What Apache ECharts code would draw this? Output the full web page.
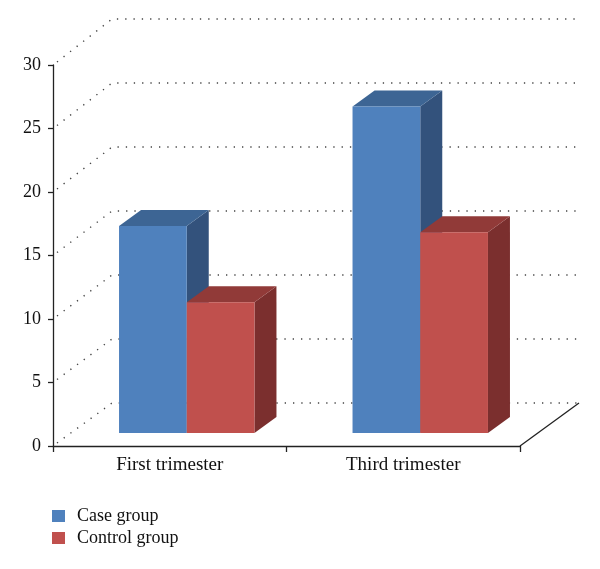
<!DOCTYPE html>
<html>
<head>
<meta charset="utf-8">
<script src="https://cdn.jsdelivr.net/npm/echarts@6/dist/echarts.min.js"></script>
<style>
  html, body { margin: 0; padding: 0; background: #fff; }
  #chart { width: 600px; height: 569px; }
</style>
</head>
<body>
<div id="chart"></div>
<script>
// data
var categories = ['First trimester', 'Third trimester'];
var caseGroup = [16.3, 25.7];
var controlGroup = [10.3, 15.8];
var yTicks = [0, 5, 10, 15, 20, 25, 30];

// 3D look
var WALL_DX = 59;      // depth of the back wall
var BAR_OFF_X = 17;    // bars stand a bit inside the floor
var BAR_OFF_Y = -13;
var BAR_DX = 22;       // depth of each bar
var BAR_DY = -16;
var BAR_FRAC = 0.29;   // bar width / band width
var FONT = 'Liberation Serif';

function renderWall(params, api) {
  var v = api.value(1);
  var cs = params.coordSys;
  var y = api.coord([0, v])[1];
  var dy = -43 - v * 0.1;
  var kids = [{
    type: 'polyline',
    shape: { points: [[cs.x + 4, y - 3], [cs.x + WALL_DX, y + dy], [cs.x + cs.width + WALL_DX, y + dy]] },
    style: { fill: null, stroke: '#444', lineWidth: 1.4, lineDash: [1.3, 7] }
  }];
  if (v === 0) {
    // right floor edge
    kids.push({
      type: 'line',
      shape: { x1: cs.x + cs.width, y1: y, x2: cs.x + cs.width + WALL_DX, y2: y + dy },
      style: { stroke: '#222', lineWidth: 1.3 }
    });
  }
  return { type: 'group', children: kids, silent: true };
}

function makeBar(left, front, top, side) {
  return function (params, api) {
    var idx = api.value(0), v = api.value(1);
    var base = api.coord([idx, 0]);
    var tp = api.coord([idx, v]);
    var bw = api.size([1, 0])[0] * BAR_FRAC;
    var x0 = base[0] + BAR_OFF_X + (left ? -bw : 0);
    var x1 = x0 + bw;
    var yb = base[1] + BAR_OFF_Y, yt = tp[1] + BAR_OFF_Y;
    return {
      type: 'group',
      children: [
        { type: 'polygon', shape: { points: [[x1, yb], [x1 + BAR_DX, yb + BAR_DY], [x1 + BAR_DX, yt + BAR_DY], [x1, yt]] }, style: { fill: side } },
        { type: 'polygon', shape: { points: [[x0, yt], [x0 + BAR_DX, yt + BAR_DY], [x1 + BAR_DX, yt + BAR_DY], [x1, yt]] }, style: { fill: top } },
        { type: 'rect', shape: { x: x0, y: yt, width: bw, height: yb - yt }, style: { fill: front } }
      ]
    };
  };
}

var myChart = echarts.init(document.getElementById('chart'));
myChart.setOption({
  animation: false,
  textStyle: { fontFamily: FONT },
  grid: { left: 53, right: 80, top: 65, bottom: 123, containLabel: false },
  legend: {
    orient: 'vertical',
    left: 52,
    top: 507,
    padding: 0,
    itemWidth: 13,
    itemHeight: 12,
    itemGap: 4,
    icon: 'rect',
    data: ['Case group', 'Control group'],
    textStyle: { color: '#111', fontSize: 18, fontFamily: FONT, padding: [0, 0, 0, 7] }
  },
  xAxis: {
    type: 'category',
    data: categories,
    boundaryGap: true,
    axisLine: { lineStyle: { color: '#222', width: 1.3 } },
    axisTick: { show: true, length: 6, lineStyle: { color: '#222', width: 1.3 } },
    axisLabel: { color: '#111', fontSize: 19, margin: 10, fontFamily: FONT },
    splitLine: { show: false }
  },
  yAxis: {
    type: 'value',
    min: 0,
    max: 30,
    interval: 5,
    axisLine: { show: true, lineStyle: { color: '#222', width: 1.3 } },
    axisTick: { show: true, length: 5, lineStyle: { color: '#222', width: 1.3 } },
    axisLabel: { color: '#111', fontSize: 18, margin: 12, fontFamily: FONT },
    splitLine: { show: false }
  },
  series: [
    {
      name: 'wall',
      type: 'custom',
      clip: false,
      silent: true,
      renderItem: renderWall,
      data: yTicks.map(function (v) { return [0, v]; }),
      z: 1
    },
    {
      name: 'Case group',
      type: 'custom',
      clip: false,
      itemStyle: { color: '#4F81BD' },
      renderItem: makeBar(true, '#4F81BD', '#3D6594', '#33527C'),
      data: caseGroup.map(function (v, i) { return [i, v]; }),
      z: 2
    },
    {
      name: 'Control group',
      type: 'custom',
      clip: false,
      itemStyle: { color: '#C0504D' },
      renderItem: makeBar(false, '#C0504D', '#913A38', '#7B2F2E'),
      data: controlGroup.map(function (v, i) { return [i, v]; }),
      z: 3
    }
  ]
});
</script>
</body>
</html>
